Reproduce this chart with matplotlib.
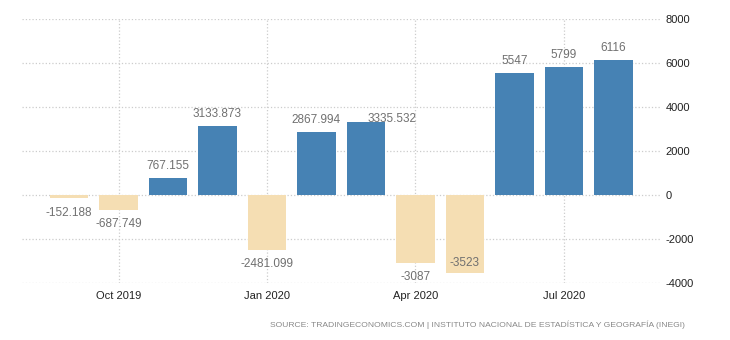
import matplotlib.pyplot as plt

months = ['Sep 2019', 'Oct 2019', 'Nov 2019', 'Dec 2019', 'Jan 2020', 'Feb 2020',
          'Mar 2020', 'Apr 2020', 'May 2020', 'Jun 2020', 'Jul 2020', 'Aug 2020']
values = [-152.188, -687.749, 767.155, 3133.873, -2481.099, 2867.994,
          3335.532, -3087, -3523, 5547, 5799, 6116]
value_labels = ['-152.188', '-687.749', '767.155', '3133.873', '-2481.099', '2867.994',
                '3335.532', '-3087', '-3523', '5547', '5799', '6116']
tick_months = ['Oct 2019', 'Jan 2020', 'Apr 2020', 'Jul 2020']
yticks = [-4000, -2000, 0, 2000, 4000, 6000, 8000]

# label nudges (points) where the original moved labels to avoid overlaps
nudges = {6: (19, -7), 8: (0, 17)}

plt.rcParams['font.family'] = ['Liberation Sans', 'DejaVu Sans']
plt.rcParams['axes.unicode_minus'] = False

fig = plt.figure(figsize=(7.3, 3.4), dpi=100)
ax = fig.add_axes([22 / 730, 1 - 283 / 340, 638 / 730, 264 / 340])

x = list(range(len(months)))
colors = ['#4682b4' if v >= 0 else '#f5deb3' for v in values]
ax.bar(x, values, width=0.77, color=colors, zorder=2)

for i, v in enumerate(values):
    dx, dy = nudges.get(i, (0, 0))
    if v >= 0:
        off, va = 4.5, 'bottom'
    else:
        off, va = -6, 'top'
    ax.annotate(value_labels[i], (i, v), xytext=(dx, off + dy), textcoords='offset points',
                ha='center', va=va, fontsize=8.5, color='#707070', zorder=3)

ax.set_xlim(-0.95, 11.94)
ax.set_ylim(-4000, 8000)
ax.set_xticks([months.index(m) for m in tick_months])
ax.set_xticklabels(tick_months)
ax.set_yticks(yticks)
ax.yaxis.tick_right()
ax.tick_params(axis='both', length=0, labelsize=8, colors='#222222')
ax.tick_params(axis='x', pad=6)
ax.tick_params(axis='y', pad=4)
for lab in ax.get_yticklabels():
    lab.set_horizontalalignment('left')

ax.grid(True, color='#cccccc', linestyle=':', linewidth=0.9, zorder=0)
ax.set_axisbelow(True)
for s in ax.spines.values():
    s.set_visible(False)

fig.text(685 / 730, 1 - 325 / 340,
         'SOURCE: TRADINGECONOMICS.COM | INSTITUTO NACIONAL DE ESTADÍSTICA Y GEOGRAFÍA (INEGI)',
         ha='right', va='center', fontsize=6.1, color='#888888')

fig.savefig('out.png', dpi=100)
